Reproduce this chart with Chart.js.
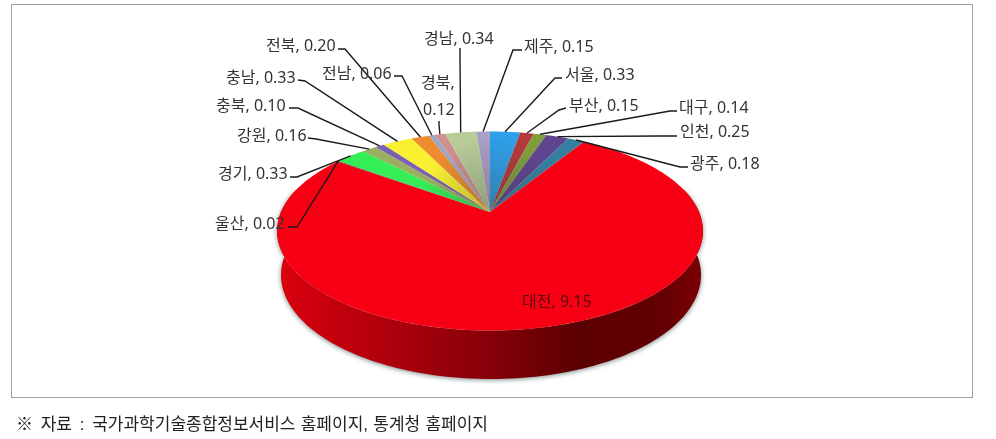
<!DOCTYPE html>
<html lang="ko"><head><meta charset="utf-8">
<script src="https://cdn.jsdelivr.net/npm/chart.js@4"></script>
<style>
html,body{margin:0;padding:0;background:#fff;width:996px;height:439px;overflow:hidden}
#frame{position:absolute;left:11px;top:4px;width:960px;height:392px;border:1px solid #a0a0a0}
canvas{position:absolute;left:0;top:0;filter:blur(0.45px)}
#note{position:absolute;left:16px;top:410px;font:17px "Liberation Sans","Noto Sans CJK KR",sans-serif;color:#222;white-space:pre;word-spacing:0.5px}
#note span{word-spacing:3px}
</style></head><body>
<div id="frame"></div>
<canvas id="c" width="996" height="439"></canvas>
<div id="note"><span>※ 자료 : </span>국가과학기술종합정보서비스 홈페이지, 통계청 홈페이지</div>
<script>
const regions = ['서울','부산','대구','인천','광주','대전','울산','경기','강원','충북','충남','전북','전남','경북','경남','제주'];
const values  = [0.33,0.15,0.14,0.25,0.18,9.15,0.02,0.33,0.16,0.10,0.33,0.20,0.06,0.12,0.34,0.15];
const colors  = ['#2E9FE8','#B23A3C','#7F9E3A','#5F4490','#347F9E','#F80014','#7A3040','#33EE55','#9AB060','#7B5FB0','#F8F030','#F08C30','#94A8D0','#D09090','#B8CC98','#A8A0C8'];

// label placement: text left x, text centre y, elbow of leader [x,y], start of leader [x,y]
const layout = {
 '서울':{x:565,y:75,from:[562,78],elbow:[555,78]},
 '부산':{x:569,y:106,from:[566,108],elbow:[559,110]},
 '대구':{x:679,y:108,from:[677,111],elbow:[670,111]},
 '인천':{x:680,y:132,from:[677,136],elbow:[660,136]},
 '광주':{x:690,y:164,from:[688,167],elbow:[680,167]},
 '대전':{x:522,y:302},
 '울산':{x:215,y:224,from:[288,227],elbow:[297,227]},
 '경기':{x:218,y:174,from:[290,177],elbow:[297,177]},
 '강원':{x:237,y:136,from:[308,138],elbow:[316,139]},
 '충북':{x:216,y:106,from:[289,108],elbow:[298,108]},
 '충남':{x:226,y:78,from:[298,80],elbow:[305,81]},
 '전북':{x:266,y:46,from:[338,49],elbow:[345,49]},
 '전남':{x:322,y:74,from:[394,76],elbow:[402,76]},
 '경북':{x:421,y:83,x2:423,y2:110,from:[439,121],elbow:[439,124]},
 '경남':{x:424,y:39,from:[460,48],elbow:[460,60]},
 '제주':{x:524,y:47,from:[522,50],elbow:[513,50]}
};

// projective view of the pie's top face and the lower rim of its side wall
const view = {cx:490,cy:231,A:209,B:99.5,C:-19,e:-0.191, lowCx:491,lowCy:275,lowRx:210,lowRy:104};
function project(a){
  const u=Math.cos(a), v=Math.sin(a), w=1+view.e*v;
  return [view.cx+view.A*u/w, view.cy+(view.B*v+view.C)/w];
}
function lowerRim(a){ return [view.lowCx+view.lowRx*Math.cos(a), view.lowCy+view.lowRy*Math.sin(a)]; }
const FONT='16px "Noto Sans","Noto Sans CJK KR"';

const pie3d = {
  id:'pie3d',
  beforeDatasetDraw(chart,args){
    const ctx=chart.ctx, arcs=chart.getDatasetMeta(args.index).data;
    ctx.save();
    // side wall: only the part of each slice on the front half
    arcs.forEach(el=>{
      const s=Math.max(el.startAngle,-0.25), e=Math.min(el.endAngle,Math.PI+0.25);
      if(e<=s) return;
      const g=ctx.createLinearGradient(view.cx-213,0,view.cx+213,0);
      g.addColorStop(0,'#dc000e');g.addColorStop(.25,'#b0000c');g.addColorStop(.5,'#860008');
      g.addColorStop(.7,'#5c0002');g.addColorStop(.9,'#620003');g.addColorStop(1,'#7c0006');
      ctx.save();
      ctx.shadowColor='rgba(70,85,85,.7)';ctx.shadowBlur=5;ctx.shadowOffsetY=1;
      ctx.beginPath();
      for(let i=0;i<=120;i++){const p=lowerRim(s+(e-s)*i/120); i?ctx.lineTo(p[0],p[1]):ctx.moveTo(p[0],p[1]);}
      for(let i=120;i>=0;i--){const p=project(s+(e-s)*i/120); ctx.lineTo(p[0],p[1]);}
      ctx.closePath();ctx.fillStyle=g;ctx.fill();
      ctx.restore();
    });
    // top face, small slices dimming slightly toward the apex
    const apex=[view.cx,view.cy+view.C], big=Math.max(...values);
    arcs.forEach((el,i)=>{
      const trace=()=>{
        ctx.beginPath();ctx.moveTo(apex[0],apex[1]);
        const n=Math.max(4,Math.ceil((el.endAngle-el.startAngle)*60));
        for(let k=0;k<=n;k++){const p=project(el.startAngle+(el.endAngle-el.startAngle)*k/n);ctx.lineTo(p[0],p[1]);}
        ctx.closePath();
      };
      trace();ctx.fillStyle=colors[i];ctx.fill();
      if(values[i]<big){
        const r=ctx.createRadialGradient(apex[0],apex[1],0,apex[0],apex[1],75);
        r.addColorStop(0,'rgba(60,60,60,.35)');r.addColorStop(1,'rgba(60,60,60,0)');
        trace();ctx.fillStyle=r;ctx.fill();
      }
    });
    ctx.restore();
    return false;
  },
  afterDatasetsDraw(chart){
    const ctx=chart.ctx, arcs=chart.getDatasetMeta(0).data;
    ctx.save();
    ctx.font=FONT;ctx.textBaseline='middle';ctx.textAlign='left';
    regions.forEach((name,i)=>{
      const L=layout[name], el=arcs[i], val=values[i].toFixed(2);
      if(L.from){
        const t=project((el.startAngle+el.endAngle)/2);
        ctx.beginPath();ctx.moveTo(L.from[0],L.from[1]);ctx.lineTo(L.elbow[0],L.elbow[1]);ctx.lineTo(t[0],t[1]);
        ctx.strokeStyle='#1a1a1a';ctx.lineWidth=1.4;ctx.stroke();
      }
      ctx.fillStyle=name==='대전'?'#5a0a10':'#333';
      if(L.x2!==undefined){
        ctx.fillText(name+',',L.x,L.y);ctx.fillText(val,L.x2,L.y2);
      }else ctx.fillText(name+', '+val,L.x,L.y);
    });
    ctx.restore();
  }
};

new Chart(document.getElementById('c'),{
  type:'pie',
  data:{labels:regions,datasets:[{data:values,backgroundColor:colors,borderWidth:0}]},
  options:{responsive:false,animation:false,rotation:0,
    plugins:{legend:{display:false},tooltip:{enabled:false}}},
  plugins:[pie3d]
});
</script></body></html>
